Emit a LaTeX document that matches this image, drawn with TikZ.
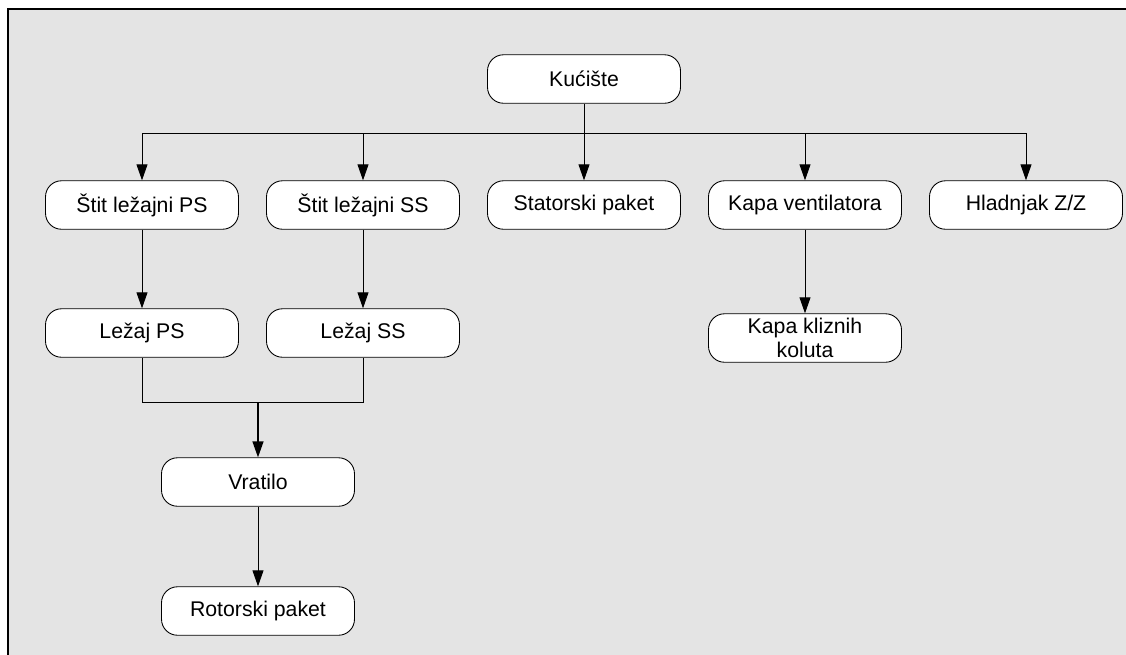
\documentclass[tikz,border=0pt]{standalone}
\usepackage{fontspec}
\setmainfont{Liberation Sans}
\usetikzlibrary{arrows.meta}
\definecolor{bggray}{RGB}{228,228,228}
\begin{document}
\begin{tikzpicture}[x=0.02cm, y=-0.02cm, font=\fontsize{12.1}{14}\selectfont,
      >={Triangle[length=3.2mm,width=2.2mm]}, line width=0.5pt,
      box/.style={draw, fill=white, rounded corners=0.32cm, align=center, minimum width=3.86cm, minimum height=0.97cm, inner sep=1pt}]
    \useasboundingbox (0,0) rectangle (1126,654);
    \fill[bggray] (8,9) rectangle (1140,670);
    \draw[line width=1.2pt] (8,670) -- (8,9) -- (1140,9);
    \node[box] (kuc) at (584,79) {Kućište};
    \node[box] (stitps) at (142,205) {Štit ležajni PS};
    \node[box] (stitss) at (363,205) {Štit ležajni SS};
    \node[box] (stat) at (584,205) {Statorski paket};
    \node[box] (kapav) at (805,205) {Kapa ventilatora};
    \node[box] (hlad) at (1026,205) {Hladnjak Z/Z};
    \node[box] (lezps) at (142,333) {Ležaj PS};
    \node[box] (lezss) at (363,333) {Ležaj SS};
    \node[box] (kapak) at (805,338) {Kapa kliznih\\koluta};
    \node[box] (vrat) at (258,482) {Vratilo};
    \node[box] (rotor) at (258,611) {Rotorski paket};
    \coordinate (bus) at (584,133);
    \coordinate (join) at (258,402);
    \draw[->] (kuc) -- (stat);
    \draw[->] (bus) -| (stitps);
    \draw[->] (bus) -| (stitss);
    \draw[->] (bus) -| (kapav);
    \draw[->] (bus) -| (hlad);
    \draw[->] (stitps) -- (lezps);
    \draw[->] (stitss) -- (lezss);
    \draw[->] (kapav) -- (kapak);
    \draw (lezps) |- (join);
    \draw (lezss) |- (join);
    \draw[->, line width=0.8pt] (join) -- (vrat);
    \draw[->] (vrat) -- (rotor);
  \end{tikzpicture}
\end{document}
